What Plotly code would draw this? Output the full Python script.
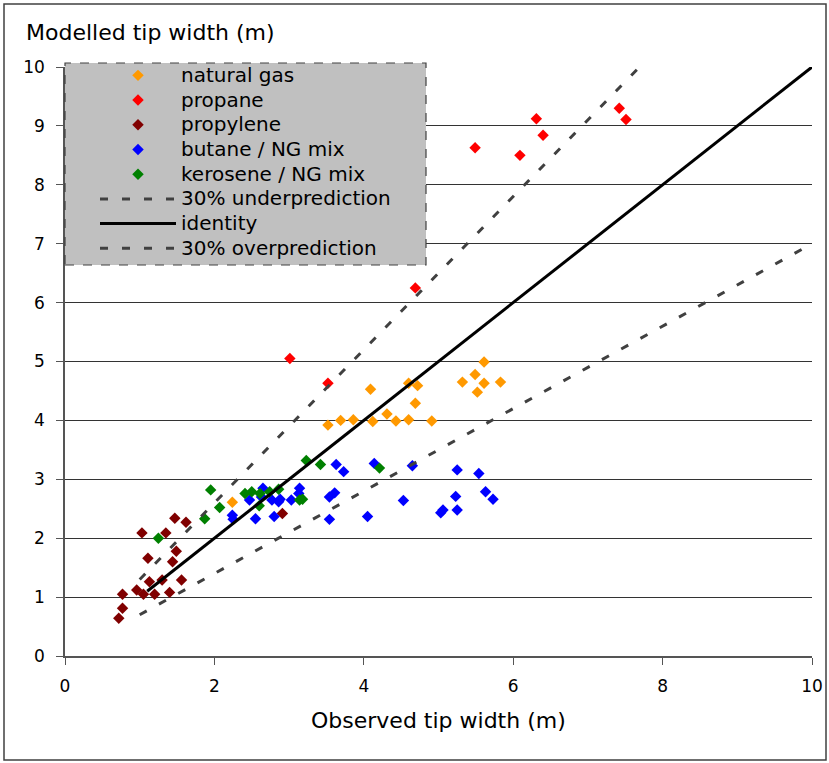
import plotly.graph_objects as go

# Observed vs modelled flame tip width (m) by fuel
ng_obs = [2.24, 3.52, 3.69, 3.86, 4.09, 4.12, 4.31, 4.43, 4.60, 4.60, 4.72, 4.69, 4.91,
          5.32, 5.49, 5.61, 5.61, 5.52, 5.83]
ng_mod = [2.61, 3.92, 4.00, 4.01, 4.53, 3.98, 4.11, 3.99, 4.01, 4.63, 4.59, 4.29, 3.99,
          4.65, 4.78, 4.99, 4.63, 4.48, 4.65]

propane_obs = [3.01, 3.52, 4.69, 5.49, 6.09, 6.31, 6.40, 7.42, 7.51]
propane_mod = [5.05, 4.63, 6.25, 8.63, 8.50, 9.12, 8.84, 9.30, 9.11]

propylene_obs = [0.72, 0.77, 0.77, 0.96, 1.05, 1.20, 1.40, 1.13, 1.30, 1.56, 1.11, 1.44,
                 1.49, 1.03, 1.35, 1.47, 1.62, 2.91]
propylene_mod = [0.64, 0.81, 1.05, 1.12, 1.05, 1.05, 1.08, 1.26, 1.29, 1.29, 1.66, 1.60,
                 1.78, 2.09, 2.09, 2.34, 2.27, 2.42]

butane_obs = [2.24, 2.25, 2.47, 2.55, 2.63, 2.65, 2.77, 2.80, 2.86, 2.88, 3.03, 3.13, 3.14,
              3.54, 3.54, 3.61, 3.63, 3.73, 4.05, 4.14, 4.53, 4.65, 5.03, 5.06, 5.23, 5.25,
              5.25, 5.54, 5.63, 5.73]
butane_mod = [2.39, 2.32, 2.65, 2.33, 2.70, 2.85, 2.65, 2.37, 2.62, 2.66, 2.65, 2.76, 2.85,
              2.70, 2.32, 2.77, 3.25, 3.13, 2.37, 3.27, 2.64, 3.23, 2.43, 2.48, 2.71, 2.48,
              3.16, 3.10, 2.79, 2.66]

kerosene_obs = [1.25, 1.87, 1.95, 2.07, 2.41, 2.50, 2.60, 2.61, 2.74, 2.86, 3.14, 3.18,
                3.23, 3.42, 4.21]
kerosene_mod = [2.00, 2.33, 2.82, 2.52, 2.76, 2.79, 2.55, 2.76, 2.79, 2.83, 2.65, 2.66,
                3.32, 3.25, 3.19]

# Reference lines: 30 % under-/over-prediction and identity
under_x = [1.0, 10.0]
under_y = [0.7, 7.0]
ident_x = [1.1, 10.0]
ident_y = [1.1, 10.0]
over_x = [1.0, 7.69]
over_y = [1.3, 10.0]

x_ticks = [0, 2, 4, 6, 8, 10]
y_ticks = [0, 1, 2, 3, 4, 5, 6, 7, 8, 9, 10]

FONT = "DejaVu Sans"
W, H = 829, 763
ML, MR, MT, MB = 65, 17, 67, 107
PW, PH = W - ML - MR, H - MT - MB


def px_x(p):
    return (p - ML) / PW


def px_y(p):
    return (H - MB - p) / PH


def legend_label(s):
    return f"<span style='font-size:20px'>{s}</span>"


fig = go.Figure()

series = [
    ("natural gas", ng_obs, ng_mod, "#FF9900"),
    ("propane", propane_obs, propane_mod, "#FF0000"),
    ("propylene", propylene_obs, propylene_mod, "#800000"),
    ("butane / NG mix", butane_obs, butane_mod, "#0000FF"),
    ("kerosene / NG mix", kerosene_obs, kerosene_mod, "#008000"),
]
for name, xs, ys, col in series:
    fig.add_trace(go.Scatter(
        x=xs, y=ys, mode="markers", name=legend_label(name),
        marker=dict(symbol="diamond", size=8.8, color=col, line=dict(width=0)),
    ))

dash_style = "8px,14px"
fig.add_trace(go.Scatter(x=under_x, y=under_y, mode="lines",
                         name=legend_label("30% underprediction"),
                         line=dict(color="#404040", width=3, dash=dash_style)))
fig.add_trace(go.Scatter(x=ident_x, y=ident_y, mode="lines",
                         name=legend_label("identity"),
                         line=dict(color="#000000", width=3)))
fig.add_trace(go.Scatter(x=over_x, y=over_y, mode="lines",
                         name=legend_label("30% overprediction"),
                         line=dict(color="#404040", width=3, dash=dash_style)))

shapes = [
    # legend panel
    dict(type="rect", xref="paper", yref="paper",
         x0=px_x(65), x1=px_x(426), y0=px_y(265), y1=px_y(63),
         fillcolor="#C0C0C0", line=dict(color="#404040", width=1.2, dash="dash"),
         layer="above"),
    # chart frame
    dict(type="rect", xref="paper", yref="paper",
         x0=px_x(4), x1=px_x(826), y0=px_y(760), y1=px_y(4),
         fillcolor="rgba(0,0,0,0)", line=dict(color="#404040", width=1.5),
         layer="above"),
]

annotations = [
    dict(text="Modelled tip width (m)", xref="paper", yref="paper",
         x=px_x(24), y=px_y(33), xanchor="left", yanchor="middle",
         showarrow=False, font=dict(family=FONT, size=22, color="#000")),
    dict(text="Observed tip width (m)", xref="paper", yref="paper",
         x=0.5, y=px_y(720), xanchor="center", yanchor="middle",
         showarrow=False, font=dict(family=FONT, size=22, color="#000")),
]

fig.update_layout(
    width=W, height=H,
    margin=dict(l=ML, r=MR, t=MT, b=MB, autoexpand=False),
    paper_bgcolor="white", plot_bgcolor="white",
    font=dict(family=FONT, size=17, color="#000"),
    showlegend=True,
    legend=dict(x=px_x(95), y=px_y(58), xanchor="left", yanchor="top",
                bgcolor="rgba(0,0,0,0)", borderwidth=0,
                font=dict(family=FONT, size=16.7, color="#000"),
                itemwidth=76, tracegroupgap=0, itemsizing="trace"),
    shapes=shapes,
    annotations=annotations,
    xaxis=dict(range=[0, 10], tickvals=x_ticks, showgrid=False, zeroline=False,
               showline=True, linecolor="#555", linewidth=1.5, automargin=False,
               ticks="outside", ticklen=7, tickcolor="#555",
               tickfont=dict(family=FONT, size=17), ticklabelstandoff=7),
    yaxis=dict(range=[0, 10], tickvals=y_ticks, showgrid=True, gridcolor="#333",
               gridwidth=1, zeroline=False, automargin=False,
               showline=True, linecolor="#555", linewidth=1.5,
               ticks="outside", ticklen=7, tickcolor="#555",
               tickfont=dict(family=FONT, size=17), ticklabelstandoff=8),
)

fig.write_html("out.html")
